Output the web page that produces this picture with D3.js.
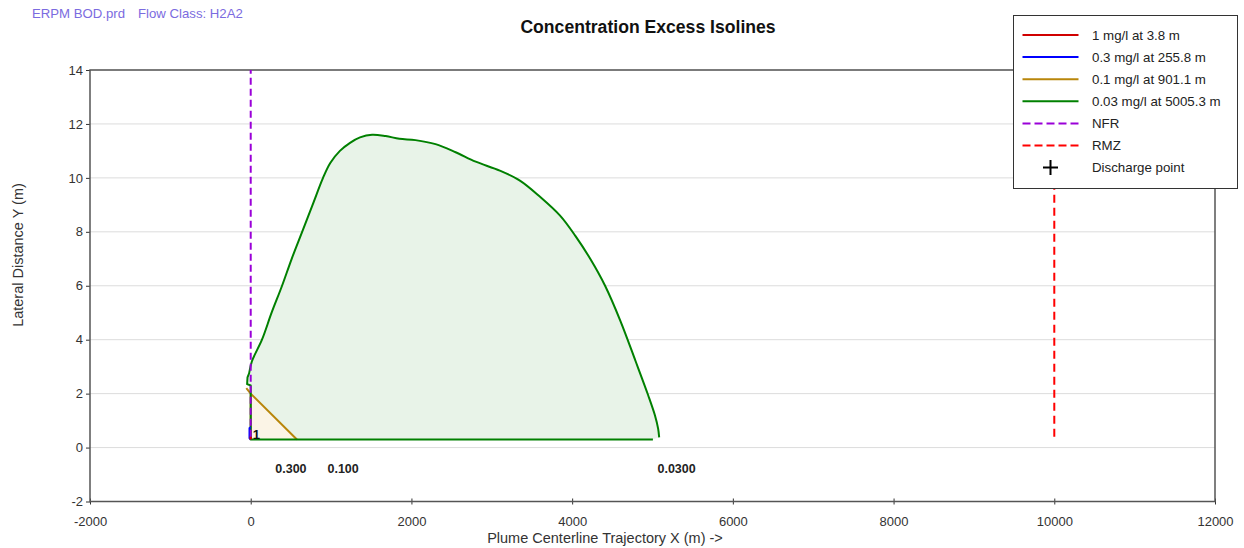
<!DOCTYPE html>
<html>
<head>
<meta charset="utf-8">
<script src="https://cdn.jsdelivr.net/npm/d3@7"></script>
<style>
  html, body { margin: 0; padding: 0; background: #fff; }
  svg { display: block; font-family: "Liberation Sans", Arial, sans-serif; }
</style>
</head>
<body>
<svg id="chart" width="1244" height="548"></svg>
<script>
// Isoline outlines, [x (m), y (m)]
const iso1mg = [[0, 0.3], [-4, 0.35], [0, 0.42], [4, 0.3]];
const iso03mg = [[0, 0.3], [-15, 0.35], [-15, 0.72], [0, 0.76]];
const iso01mg = [[0, 0.3], [0, 2.0], [-55, 2.2], [0, 2.0], [575, 0.3]];
// 0.03 mg/l: straight base and near-field notch, then the smooth outer arc
const iso003base = [[5005, 0.3], [0, 0.3], [0, 2.3], [-45, 2.35], [-40, 2.6], [-20, 2.75]];
const iso003arc = [
  [-20, 2.75], [15, 3.2], [140, 4.0], [260, 5.0], [390, 6.0], [510, 7.0], [640, 8.0],
  [770, 9.0], [900, 10.0], [990, 10.55], [1110, 11.0], [1236, 11.3], [1360, 11.5],
  [1510, 11.6], [1680, 11.55], [1850, 11.45], [2050, 11.4], [2300, 11.25], [2550, 10.95],
  [2800, 10.6], [3100, 10.27], [3350, 9.9], [3600, 9.3], [3850, 8.6], [4040, 7.85],
  [4225, 7.0], [4410, 6.0], [4600, 4.7], [4790, 3.2], [4945, 1.95], [5030, 1.2],
  [5070, 0.7], [5083, 0.38]
];
const nfrX = 0, nfrY = [0.4, 14];
const rmzX = 10000, rmzY = [0.4, 14];
const dischargePoint = [0, 0.3];

// Contour value labels along the bottom
const contourLabels = [["0.300", 500], ["0.100", 1150], ["0.0300", 5300]];
const contourLabelY = -0.95;

const legendNames = ["1 mg/l at 3.8 m", "0.3 mg/l at 255.8 m", "0.1 mg/l at 901.1 m",
  "0.03 mg/l at 5005.3 m", "NFR", "RMZ", "Discharge point"];
const xTicks = [-2000, 0, 2000, 4000, 6000, 8000, 10000, 12000];
const yTicks = [-2, 0, 2, 4, 6, 8, 10, 12, 14];

const svg = d3.select("#chart");
const m = { left: 90, right: 1215, top: 70, bottom: 501.5 };

const x = d3.scaleLinear().domain([-2000, 12000]).range([m.left, m.right]);
const y = d3.scaleLinear().domain([-2, 14]).range([m.bottom, m.top]);
const line = d3.line().x(d => x(d[0])).y(d => y(d[1]));
const smooth = d3.line().x(d => x(d[0])).y(d => y(d[1])).curve(d3.curveCatmullRom.alpha(0.5));
const iso003path = line(iso003base) + smooth(iso003arc).replace(/^M[^A-Za-z]*/, "");

// header and title
svg.append("text").attr("x", 32).attr("y", 18).attr("fill", "#7b6be0")
  .attr("font-size", 13.2).text("ERPM BOD.prd");
svg.append("text").attr("x", 138).attr("y", 18).attr("fill", "#7b6be0")
  .attr("font-size", 13.2).text("Flow Class: H2A2");
svg.append("text").attr("x", 648).attr("y", 33).attr("text-anchor", "middle")
  .attr("font-size", 17.6).attr("font-weight", "bold").attr("fill", "#111")
  .text("Concentration Excess Isolines");

// horizontal grid
svg.append("g").selectAll("line").data(yTicks).join("line")
  .attr("x1", m.left).attr("x2", m.right)
  .attr("y1", d => y(d)).attr("y2", d => y(d))
  .attr("stroke", "#dcdcdc").attr("stroke-width", 1);

// axes
const xAxis = svg.append("g").attr("transform", `translate(0,${m.bottom})`)
  .call(d3.axisBottom(x).tickValues(xTicks).tickFormat(d => String(d)).tickSize(3));
xAxis.selectAll(".tick line").attr("y1", -3).attr("stroke", "#333");
xAxis.selectAll("text").attr("font-size", 13).attr("fill", "#333").attr("dy", null).attr("y", 24)
  .attr("font-family", "Liberation Sans, Arial, sans-serif");
xAxis.select(".domain").remove();

const yAxis = svg.append("g").attr("transform", `translate(${m.left},0)`)
  .call(d3.axisLeft(y).tickValues(yTicks).tickFormat(d => String(d)).tickSize(4));
yAxis.selectAll(".tick line").attr("stroke", "#333");
yAxis.selectAll("text").attr("font-size", 13).attr("fill", "#333").attr("x", -7)
  .attr("font-family", "Liberation Sans, Arial, sans-serif");
yAxis.select(".domain").remove();

// plot frame
svg.append("rect").attr("x", m.left).attr("y", m.top)
  .attr("width", m.right - m.left).attr("height", m.bottom - m.top)
  .attr("fill", "none").attr("stroke", "#555").attr("stroke-width", 1.5);

// axis titles
svg.append("text").attr("x", 605).attr("y", 543).attr("text-anchor", "middle")
  .attr("font-size", 14.5).attr("fill", "#333").text("Plume Centerline Trajectory X (m) ->");
svg.append("text").attr("transform", "translate(23,255) rotate(-90)")
  .attr("text-anchor", "middle").attr("font-size", 14.5).attr("fill", "#333")
  .text("Lateral Distance Y (m)");

// filled isolines, largest first
const plot = svg.append("g");
plot.append("path").attr("d", iso003path)
  .attr("fill", "#e8f3e8").attr("stroke", "none");
plot.append("path").attr("d", line(iso01mg.filter((d, i) => i !== 2)))
  .attr("fill", "#fbf4e6").attr("stroke", "none");

plot.append("path").attr("d", line(iso01mg))
  .attr("fill", "none").attr("stroke", "#b8860b").attr("stroke-width", 2);
plot.append("path").attr("d", iso003path)
  .attr("fill", "none").attr("stroke", "#008000").attr("stroke-width", 2)
  .attr("stroke-linejoin", "round");
plot.append("path").attr("d", line(iso03mg))
  .attr("fill", "none").attr("stroke", "#0000ff").attr("stroke-width", 2);
plot.append("path").attr("d", line(iso1mg))
  .attr("fill", "none").attr("stroke", "#d00000").attr("stroke-width", 2);

// NFR and RMZ boundaries
plot.append("line").attr("x1", x(nfrX)).attr("x2", x(nfrX))
  .attr("y1", y(nfrY[0])).attr("y2", y(nfrY[1]))
  .attr("stroke", "#9a00d8").attr("stroke-width", 2).attr("stroke-dasharray", "7,4");
plot.append("line").attr("x1", x(rmzX)).attr("x2", x(rmzX))
  .attr("y1", y(rmzY[0])).attr("y2", y(rmzY[1]))
  .attr("stroke", "#ff0000").attr("stroke-width", 2).attr("stroke-dasharray", "8,5");

// discharge point label
plot.append("text").attr("x", x(dischargePoint[0]) + 2).attr("y", y(dischargePoint[1]) - 0.5)
  .attr("font-size", 13).attr("font-weight", "bold").attr("fill", "#111").text("1");

// contour value labels
plot.selectAll(".clabel").data(contourLabels).join("text")
  .attr("x", d => x(d[1])).attr("y", y(contourLabelY))
  .attr("text-anchor", "middle").attr("font-size", 12.5).attr("font-weight", "bold")
  .attr("fill", "#222").text(d => d[0]);

// legend
const lg = svg.append("g");
lg.append("rect").attr("x", 1013.5).attr("y", 15.5).attr("width", 224).attr("height", 173)
  .attr("fill", "#fff").attr("stroke", "#333").attr("stroke-width", 1);
const legendStyles = [
  { c: "#d00000", dash: null }, { c: "#0000ff", dash: null }, { c: "#b8860b", dash: null },
  { c: "#008000", dash: null }, { c: "#9a00d8", dash: "8,4" }, { c: "#ff0000", dash: "8,4" },
  { c: "#000", dash: null, plus: true }
];
legendNames.forEach((name, i) => {
  const cy = 35 + i * 22.1;
  const s = legendStyles[i];
  if (s.plus) {
    lg.append("path").attr("d", `M1043,${cy}h15M1050.5,${cy - 7.5}v15`)
      .attr("stroke", s.c).attr("stroke-width", 2);
  } else {
    lg.append("line").attr("x1", 1022.5).attr("x2", 1078.5).attr("y1", cy).attr("y2", cy)
      .attr("stroke", s.c).attr("stroke-width", 2).attr("stroke-dasharray", s.dash);
  }
  lg.append("text").attr("x", 1092).attr("y", cy + 4.8).attr("font-size", 13.3)
    .attr("fill", "#222").text(name);
});
</script>
</body>
</html>
